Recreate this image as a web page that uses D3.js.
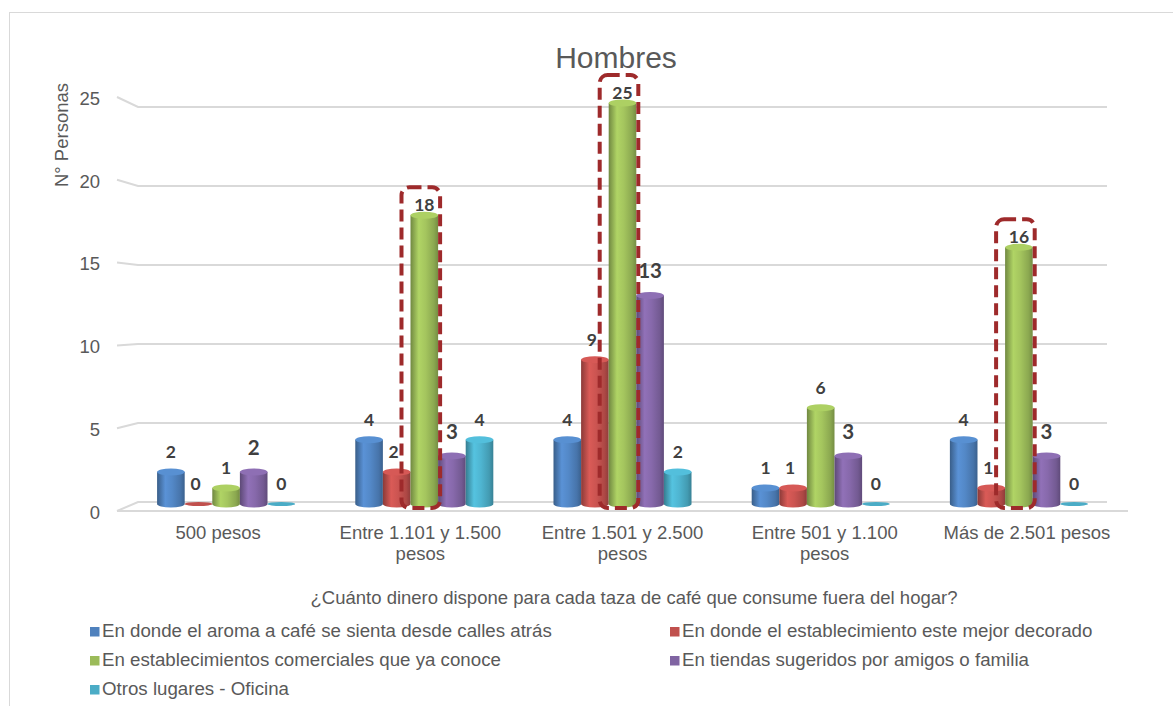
<!DOCTYPE html>
<html>
<head>
<meta charset="utf-8">
<script src="https://cdn.jsdelivr.net/npm/d3@7"></script>
<style>
  body { margin: 0; background: #fff; }
  text { font-family: "Liberation Sans", Arial, sans-serif; fill: #595959; }
  .value-label { font-family: Lato, "Open Sans", sans-serif; font-weight: 700; fill: #404040; }
</style>
</head>
<body>
<div id="chart"></div>
<script>
// data
const categories = ["500 pesos", "Entre 1.101 y 1.500 pesos", "Entre 1.501 y 2.500 pesos", "Entre 501 y 1.100 pesos", "Más de 2.501 pesos"];
const series = [
  "En donde el aroma a café se sienta desde calles atrás",
  "En donde el establecimiento este mejor decorado",
  "En establecimientos comerciales que ya conoce",
  "En tiendas sugeridos por amigos o familia",
  "Otros lugares - Oficina"
];
const aromaValues = [2, 4, 4, 1, 4];
const decoradoValues = [0, 2, 9, 1, 1];
const conoceValues = [1, 18, 25, 6, 16];
const amigosValues = [2, 3, 13, 3, 3];
const oficinaValues = [0, 4, 2, 0, 0];
const yTicks = [0, 5, 10, 15, 20, 25];
const highlighted = ["Entre 1.101 y 1.500 pesos", "Entre 1.501 y 2.500 pesos", "Más de 2.501 pesos"];

const seriesValues = [aromaValues, decoradoValues, conoceValues, amigosValues, oficinaValues];
const colors = ["#4f81bd", "#c0504d", "#9bbb59", "#8064a2", "#4bacc6"];

const W = 1173, H = 706;
const svg = d3.select("#chart").append("svg").attr("width", W).attr("height", H);

svg.append("rect").attr("x", 9.5).attr("y", 12.5).attr("width", 1170).attr("height", 720)
  .attr("fill", "none").attr("stroke", "#d9d9d9");

// scales: back wall, front edge, and bars
const yBack = d3.scaleLinear().domain([0, 25]).range([502, 107]);
const yFront = d3.scaleLinear().domain([0, 25]).range([511, 97]);
const yBar = d3.scaleLinear().domain([0, 25]).range([504, 103]);
const xBack = [138, 1107], xFront = [117, 1128];

const x0 = d3.scaleBand().domain(categories).range([127, 1118]);
const x1 = d3.scaleBand().domain(series).range([0, x0.bandwidth()]).paddingOuter(1.09);
const xLabel = d3.scaleBand().domain(categories).range(xFront);

// gridlines
const grid = svg.append("g").attr("stroke", "#d9d9d9").attr("stroke-width", 2).attr("fill", "none");
yTicks.forEach(v => {
  grid.append("path").attr("d", `M${xFront[0]},${yFront(v)}L${xBack[0]},${yBack(v)}L${xBack[1]},${yBack(v)}`);
});
grid.append("path").attr("d", `M${xFront[0]},${yFront(0)}L${xFront[1]},${yFront(0)}`);

// y tick labels
svg.append("g").selectAll("text").data(yTicks).join("text")
  .attr("x", 100).attr("y", d => yFront(d) + 3)
  .attr("text-anchor", "end").attr("dominant-baseline", "middle")
  .style("font-size", "18.5px").text(d => d);

svg.append("text").attr("transform", "translate(68,135) rotate(-90)")
  .attr("text-anchor", "middle").style("font-size", "18.5px").text("N° Personas");

svg.append("text").attr("x", 616).attr("y", 68).attr("text-anchor", "middle")
  .style("font-size", "30px").text("Hombres");

// gradients for cylinders
const defs = svg.append("defs");
colors.forEach((c, i) => {
  const g = defs.append("linearGradient").attr("id", "cyl" + i);
  const base = d3.color(c);
  [[0, base.darker(0.9)], [0.3, base.brighter(0.35)], [0.55, base.brighter(0.15)], [0.85, base.darker(0.3)], [1, base.darker(0.8)]]
    .forEach(([o, col]) => g.append("stop").attr("offset", o).attr("stop-color", col));
});

const rows = [];
categories.forEach((cat, ci) => {
  series.forEach((s, si) => rows.push({ cat, s, si, v: seriesValues[si][ci], hi: si === 2 && highlighted.includes(cat) }));
});

const bars = svg.append("g");
const ry = 3.5;
rows.forEach(d => {
  const xl = x0(d.cat) + x1(d.s);
  const w = x1.bandwidth();
  const rx = w / 2;
  const cx = xl + rx;
  const yb = yBar(0), yt = yBar(d.v);
  const g = bars.append("g");
  if (d.v > 0) {
    g.append("path")
      .attr("d", `M${xl},${yt}L${xl},${yb}A${rx},${ry} 0 0 0 ${xl + w},${yb}L${xl + w},${yt}Z`)
      .attr("fill", `url(#cyl${d.si})`);
  }
  g.append("ellipse").attr("cx", cx).attr("cy", yt).attr("rx", rx).attr("ry", d.v > 0 ? ry : 2)
    .attr("fill", d.v > 0 ? d3.color(colors[d.si]).brighter(0.3) : colors[d.si]);
});

// dashed highlight boxes around the green bars
const green = series[2];
svg.append("g").selectAll("rect").data(highlighted).join("rect")
  .attr("x", d => x0(d) + x1(green) - 9)
  .attr("y", d => yBar(conoceValues[categories.indexOf(d)]) - 28)
  .attr("width", x1.bandwidth() + 11)
  .attr("height", d => yBar(0) + 4 - (yBar(conoceValues[categories.indexOf(d)]) - 28))
  .attr("rx", 8)
  .attr("fill", "none").attr("stroke", "#9e2a2b").attr("stroke-width", 4)
  .attr("stroke-dasharray", "12,6");

// value labels
svg.append("g").selectAll("text").data(rows).join("text")
  .attr("class", "value-label")
  .attr("x", d => x0(d.cat) + x1(d.s) + x1.bandwidth() / 2 - (d.si === 1 ? 3 : 0))
  .attr("y", d => yBar(d.v) - (d.hi ? 4 : d.si === 3 ? 17 : 14))
  .attr("text-anchor", "middle")
  .style("font-size", d => d.si === 3 ? "20.5px" : "17.5px")
  .text(d => d.v);

// x-axis labels (wrapped like the original)
const xLines = {
  "500 pesos": ["500 pesos"],
  "Entre 1.101 y 1.500 pesos": ["Entre 1.101 y 1.500", "pesos"],
  "Entre 1.501 y 2.500 pesos": ["Entre 1.501 y 2.500", "pesos"],
  "Entre 501 y 1.100 pesos": ["Entre 501 y 1.100", "pesos"],
  "Más de 2.501 pesos": ["Más de 2.501 pesos"]
};
const xl = svg.append("g").selectAll("text").data(categories).join("text")
  .attr("x", d => xLabel(d) + xLabel.bandwidth() / 2)
  .attr("y", 539).attr("text-anchor", "middle").style("font-size", "18.5px");
xl.each(function (d) {
  d3.select(this).selectAll("tspan").data(xLines[d]).join("tspan")
    .attr("x", xLabel(d) + xLabel.bandwidth() / 2)
    .attr("dy", (t, i) => i === 0 ? 0 : 21).text(t => t);
});

svg.append("text").attr("x", 634).attr("y", 604).attr("text-anchor", "middle")
  .style("font-size", "18.5px").text("¿Cuánto dinero dispone para cada taza de café que consume fuera del hogar?");

// legend
const legend = svg.append("g").selectAll("g").data(series).join("g")
  .attr("transform", (d, i) => `translate(${i % 2 === 0 ? 90 : 670},${632 + Math.floor(i / 2) * 29})`);
legend.append("rect").attr("x", 0).attr("y", -5).attr("width", 9.5).attr("height", 9.5)
  .attr("fill", (d, i) => colors[i]);
legend.append("text").attr("x", 12).attr("y", 0).attr("dominant-baseline", "middle")
  .style("font-size", "18.7px").text(d => d);
</script>
</body>
</html>
